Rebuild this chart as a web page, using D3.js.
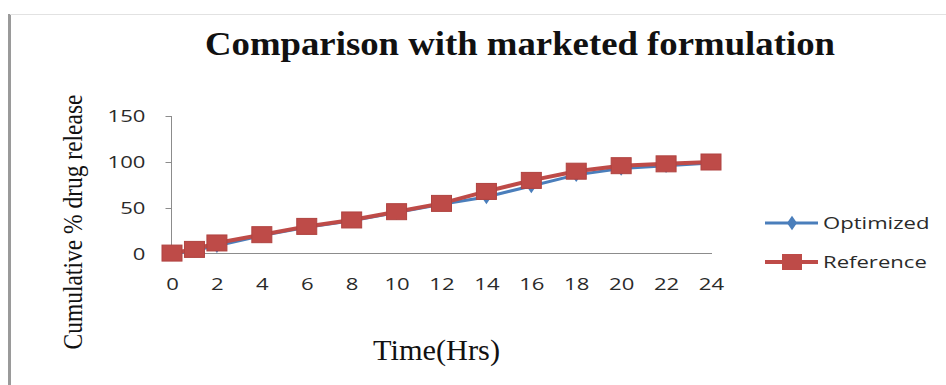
<!DOCTYPE html>
<html>
<head>
<meta charset="utf-8">
<script src="https://cdn.jsdelivr.net/npm/d3@7"></script>
<style>
  html, body { margin: 0; padding: 0; background: #fff; }
  svg { display: block; }
</style>
</head>
<body>
<svg id="chart" width="946" height="385"></svg>
<script>
// Sampling times (hours) and cumulative % drug release for both formulations
const hours = [0, 1, 2, 4, 6, 8, 10, 12, 14, 16, 18, 20, 22, 24];
const optimized = [0, 4, 9, 20, 29, 36, 45, 54, 62, 74, 86, 93, 96, 99];
const reference = [1, 5, 12, 21, 30, 37, 46, 55, 68, 80, 90, 96, 98, 100];
const xTicks = [0, 2, 4, 6, 8, 10, 12, 14, 16, 18, 20, 22, 24];
const yTicks = [0, 50, 100, 150];
const seriesNames = ["Optimized", "Reference"];

const blue = "#4A7EBB";
const red = "#BE4B48";
const axisGrey = "#8c8c8c";
const stretch = 1.3; // wide glyphs for the axis and legend labels

const svg = d3.select("#chart");

// outer frame
svg.append("line").attr("x1", 9.5).attr("x2", 9.5).attr("y1", 14).attr("y2", 385)
  .attr("stroke", "#9a9a9a").attr("stroke-width", 3);
svg.append("line").attr("x1", 10).attr("x2", 946).attr("y1", 14.5).attr("y2", 14.5)
  .attr("stroke", "#e2e2e2").attr("stroke-width", 1);

const x = d3.scaleLinear().domain([0, 24]).range([172, 711]);
const y = d3.scaleLinear().domain([0, 150]).range([254, 116]);

// title
svg.append("text")
  .attr("x", 205).attr("y", 55)
  .attr("textLength", 630).attr("lengthAdjust", "spacingAndGlyphs")
  .style("font-family", "'Liberation Serif', 'Times New Roman', serif")
  .style("font-weight", "bold").style("font-size", "34px").attr("fill", "#111")
  .text("Comparison with marketed formulation");

// y axis
const yAxis = svg.append("g").attr("transform", "translate(171.5,0)")
  .call(d3.axisLeft(y).tickValues(yTicks).tickSize(6).tickPadding(0));
yAxis.select(".domain").attr("stroke", axisGrey).attr("d", `M0,${y(150)}V${y(0)}`);
yAxis.selectAll(".tick line").attr("stroke", axisGrey);
yAxis.selectAll(".tick text")
  .attr("x", -26 / stretch)
  .attr("transform", `scale(${stretch},1)`)
  .style("font-family", "'Open Sans', sans-serif").style("font-size", "17px")
  .attr("fill", "#2a2a2a");

// x axis
const xAxis = svg.append("g").attr("transform", `translate(0,${y(0) - 0.5})`)
  .call(d3.axisBottom(x).tickValues(xTicks).tickSize(0).tickPadding(24));
xAxis.select(".domain").attr("stroke", axisGrey).attr("d", `M171,0H712`);
xAxis.selectAll(".tick text")
  .attr("transform", `scale(${stretch},1)`)
  .style("font-family", "'Open Sans', sans-serif").style("font-size", "17px")
  .attr("fill", "#2a2a2a");

// axis titles
svg.append("text")
  .attr("transform", "translate(82,222) rotate(-90)")
  .attr("text-anchor", "middle")
  .attr("textLength", 255).attr("lengthAdjust", "spacingAndGlyphs")
  .style("font-family", "'Liberation Serif', 'Times New Roman', serif")
  .style("font-size", "28px").attr("fill", "#111")
  .text("Cumulative % drug release");

svg.append("text")
  .attr("x", 373).attr("y", 360)
  .attr("textLength", 127).attr("lengthAdjust", "spacingAndGlyphs")
  .style("font-family", "'Liberation Serif', 'Times New Roman', serif")
  .style("font-size", "29px").attr("fill", "#111")
  .text("Time(Hrs)");

const line = d3.line().x(d => x(d[0])).y(d => y(d[1]));
const optPts = hours.map((h, i) => [h, optimized[i]]);
const refPts = hours.map((h, i) => [h, reference[i]]);

// Optimized series: blue line with diamonds
svg.append("path").datum(optPts).attr("d", line)
  .attr("fill", "none").attr("stroke", blue).attr("stroke-width", 3);
const diamond = d3.symbol().type(d3.symbolDiamond).size(60);
svg.append("g").selectAll("path").data(optPts).join("path")
  .attr("transform", d => `translate(${x(d[0])},${y(d[1])}) scale(1.2,1)`)
  .attr("d", diamond).attr("fill", blue);

// Reference series: red line with squares
svg.append("path").datum(refPts).attr("d", line)
  .attr("fill", "none").attr("stroke", red).attr("stroke-width", 4);
svg.append("g").selectAll("rect").data(refPts).join("rect")
  .attr("x", d => x(d[0]) - 10).attr("y", d => y(d[1]) - 8)
  .attr("width", 20).attr("height", 16)
  .attr("fill", red).attr("stroke", "#b04340").attr("stroke-width", 1);

// legend
const legend = svg.append("g");
const legendRows = [
  { name: seriesNames[0], color: blue, yPos: 223, marker: "diamond" },
  { name: seriesNames[1], color: red, yPos: 262, marker: "square" }
];
legendRows.forEach(r => {
  legend.append("line").attr("x1", 765).attr("x2", 818).attr("y1", r.yPos).attr("y2", r.yPos)
    .attr("stroke", r.color).attr("stroke-width", r.marker === "square" ? 4 : 3);
  if (r.marker === "diamond") {
    legend.append("path").attr("d", diamond)
      .attr("transform", `translate(792,${r.yPos}) scale(1.2,1)`).attr("fill", r.color);
  } else {
    legend.append("rect").attr("x", 792 - 10).attr("y", r.yPos - 8)
      .attr("width", 20).attr("height", 16).attr("fill", r.color);
  }
  legend.append("text")
    .attr("x", 823 / stretch).attr("y", r.yPos + 6)
    .attr("transform", `scale(${stretch},1)`)
    .style("font-family", "'Open Sans', sans-serif").style("font-size", "17px")
    .attr("fill", "#2a2a2a")
    .text(r.name);
});
</script>
</body>
</html>
